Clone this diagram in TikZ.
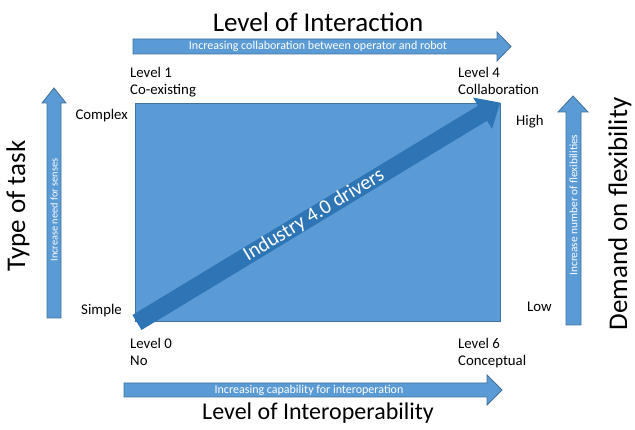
\documentclass[tikz,border=0pt]{standalone}
\usepackage{fontspec}
\setmainfont{Carlito}
\definecolor{boxblue}{HTML}{5B9BD5}
\definecolor{edgeblue}{HTML}{41719C}
\definecolor{darkblue}{HTML}{2E75B6}
\begin{document}
\begin{tikzpicture}[x=1pt,y=-1pt,
  blueshape/.style={fill=boxblue,draw=edgeblue,line width=0.8pt},
  lbl/.style={font=\fontsize{14.8}{17.5}\selectfont,inner sep=0pt,align=left},
  big/.style={font=\fontsize{27}{30}\selectfont,inner sep=0pt},
  small/.style={font=\fontsize{12}{14}\selectfont,text=white,inner sep=0pt}]
\useasboundingbox (0,0) rectangle (635,430);
% main rectangle
\draw[blueshape] (135,103) rectangle (500,321);
% diagonal arrow
\begin{scope}[shift={(137,322.5)},rotate=31.2]
  \fill[darkblue] (0,-8.75) -- (404,-8.75) -- (404,-18.3) -- (424.5,0) -- (404,18.3) -- (404,8.75) -- (0,8.75) -- cycle;
  \node[font=\fontsize{20.5}{23}\selectfont,text=white,inner sep=0pt,rotate=31.2] (drv) at (207,0) {Industry 4.0 drivers};
\end{scope}
% top arrow
\draw[blueshape] (133,39) -- (497,39) -- (497,32) -- (511,46.5) -- (497,61) -- (497,54) -- (133,54) -- cycle;
\node[small] (ta) at (318,46.5) {Increasing collaboration between operator and robot};
% bottom arrow
\draw[blueshape] (124,383) -- (487,383) -- (487,375) -- (502,390) -- (487,405) -- (487,397) -- (124,397) -- cycle;
\node[small] (ba) at (309,390) {Increasing capability for interoperation};
% left arrow
\draw[blueshape] (47,318) -- (47,103) -- (42,103) -- (54,88) -- (66,103) -- (61,103) -- (61,318) -- cycle;
\node[small,font=\fontsize{10.3}{12}\selectfont,rotate=90] (la) at (54,210) {Increase need for senses};
% right arrow
\draw[blueshape] (566,325) -- (566,112) -- (558,112) -- (573,96) -- (588,112) -- (581,112) -- (581,325) -- cycle;
\node[small,font=\fontsize{11.3}{13}\selectfont,rotate=90] (ra) at (573.5,205) {Increase number of flexibilities};
% titles
\node[big] (t1) at (318,22) {Level of Interaction};
\node[big,font=\fontsize{24}{27}\selectfont] (t2) at (318,413) {Level of Interoperability};
\node[big,rotate=90] (t3) at (18,206) {Type of task};
\node[big,rotate=90] (t4) at (620,214) {Demand on flexibility};
% corner labels
\node[lbl,anchor=north west] (l1) at (130,67) {Level 1\\Co-existing};
\node[lbl,anchor=north west] (l4) at (458,67) {Level 4\\Collaboration};
\node[lbl,anchor=north west] (l0) at (130,338) {Level 0\\No};
\node[lbl,anchor=north west] (l6) at (458,338) {Level 6\\Conceptual};
\node[lbl,anchor=east] (cx) at (128,116) {Complex};
\node[lbl,anchor=west] (hi) at (516,122) {High};
\node[lbl,anchor=east] (si) at (122,311) {Simple};
\node[lbl,anchor=west] (lo) at (527,307) {Low};
\end{tikzpicture}
\end{document}
